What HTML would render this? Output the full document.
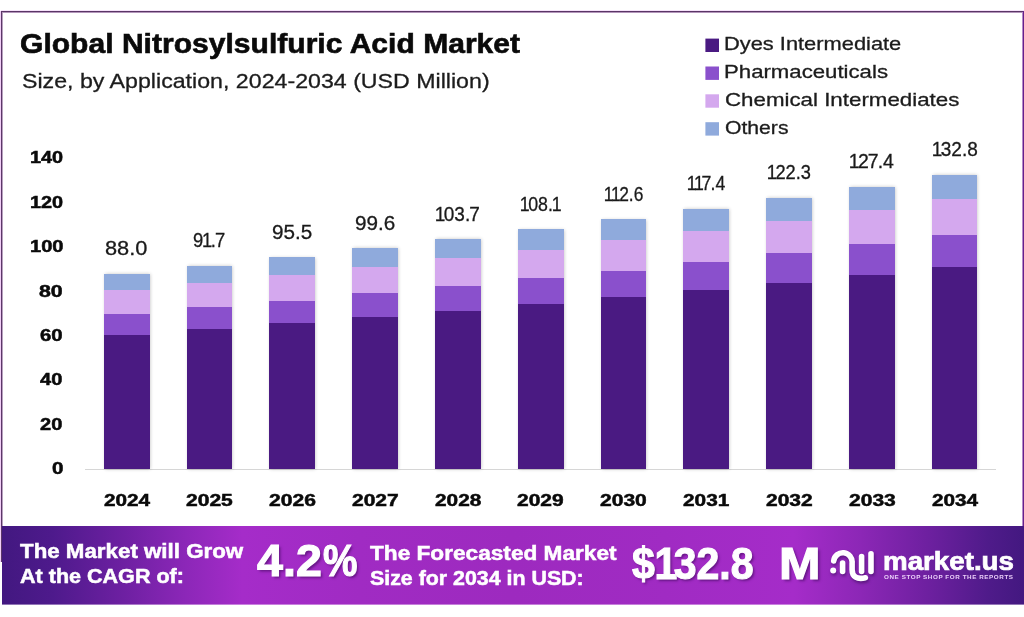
<!DOCTYPE html>
<html><head><meta charset="utf-8"><title>Global Nitrosylsulfuric Acid Market</title>
<style>
html,body{margin:0;padding:0;background:#fff;}
body{width:1024px;height:617px;position:relative;overflow:hidden;font-family:"Liberation Sans",sans-serif;color:#111;}
.t{position:absolute;white-space:nowrap;line-height:1;transform-origin:0 50%;}
.fr{position:absolute;}
.n1{margin:0 -0.085em 0 -0.065em;}
.n7{margin:0 -0.05em 0 -0.05em;}
.sq{position:absolute;left:705.4px;width:13.6px;height:13.4px;}
.seg{position:absolute;left:0;width:100%;}
.bar{position:absolute;box-shadow:0.5px 0 3.5px rgba(0,0,0,0.24);}
.axis{position:absolute;left:85px;top:468.5px;width:910.5px;height:1px;background:#d6d6d6;}
.banner{position:absolute;left:2px;top:526px;width:1022px;height:78px;background:linear-gradient(90deg,#421880 0%,#4e1a8c 5%,#6e20a2 12%,#8c27b8 18%,#a52cc9 23.5%,#a02bc3 35%,#9d2abf 50%,#a02bc3 65%,#a52cc9 77.5%,#8c27b6 84%,#6e20a0 90.5%,#4f1b8a 96.5%,#431880 100%);}
.banner2{position:absolute;left:2px;top:604px;width:1022px;height:1px;opacity:.6;background:linear-gradient(90deg,#421880 0%,#4e1a8c 5%,#6e20a2 12%,#8c27b8 18%,#a52cc9 23.5%,#a02bc3 35%,#9d2abf 50%,#a02bc3 65%,#a52cc9 77.5%,#8c27b6 84%,#6e20a0 90.5%,#4f1b8a 96.5%,#431880 100%);}
</style></head><body>
<div class="fr" style="left:0;top:11px;width:1px;height:551px;background:#f1cdf6"></div>
<div class="fr" style="left:1px;top:11px;width:1px;height:551px;background:#5b3868"></div>
<div class="fr" style="left:2px;top:12px;width:1px;height:514px;background:#b9a0c0"></div>
<div class="fr" style="left:1px;top:10px;width:1023px;height:1px;background:#f6e3fa"></div>
<div class="fr" style="left:1px;top:11px;width:1023px;height:1px;background:#5a3566"></div>
<div class="fr" style="left:2px;top:12px;width:1021px;height:1px;background:#b395bb"></div>
<div class="fr" style="left:1022px;top:12px;width:1px;height:514px;background:#b48ac8"></div>
<div class="fr" style="left:1023px;top:11px;width:1px;height:515px;background:#65208c"></div>
<svg style="position:absolute;left:700px;top:30px" width="30" height="112" viewBox="700 30 30 112"><rect x="705.4" y="38.6" width="13.6" height="13.4" fill="#4a1a82"/><rect x="705.4" y="66.5" width="13.6" height="13.4" fill="#8a50cc"/><rect x="705.4" y="94.3" width="13.6" height="13.4" fill="#d4a8ee"/><rect x="705.4" y="122.2" width="13.6" height="13.4" fill="#8faadc"/></svg>
<div class="axis"></div>
<div class="bar" style="left:103.90px;top:274.14px;width:45.8px;height:194.61px"><div class="seg" style="bottom:0.00px;height:134.19px;background:#4a1a82"></div><div class="seg" style="bottom:133.89px;height:21.32px;background:#8a50cc"></div><div class="seg" style="bottom:154.91px;height:23.85px;background:#d4a8ee"></div><div class="seg" style="bottom:178.46px;height:16.45px;background:#8faadc"></div></div>
<div class="bar" style="left:186.68px;top:265.96px;width:45.8px;height:202.79px"><div class="seg" style="bottom:0.00px;height:139.82px;background:#4a1a82"></div><div class="seg" style="bottom:139.52px;height:22.20px;background:#8a50cc"></div><div class="seg" style="bottom:161.42px;height:24.84px;background:#d4a8ee"></div><div class="seg" style="bottom:185.96px;height:17.13px;background:#8faadc"></div></div>
<div class="bar" style="left:269.46px;top:257.55px;width:45.8px;height:211.20px"><div class="seg" style="bottom:0.00px;height:145.60px;background:#4a1a82"></div><div class="seg" style="bottom:145.30px;height:23.11px;background:#8a50cc"></div><div class="seg" style="bottom:168.11px;height:25.85px;background:#d4a8ee"></div><div class="seg" style="bottom:193.67px;height:17.83px;background:#8faadc"></div></div>
<div class="bar" style="left:352.24px;top:248.48px;width:45.8px;height:220.27px"><div class="seg" style="bottom:0.00px;height:151.84px;background:#4a1a82"></div><div class="seg" style="bottom:151.54px;height:24.09px;background:#8a50cc"></div><div class="seg" style="bottom:175.33px;height:26.95px;background:#d4a8ee"></div><div class="seg" style="bottom:201.98px;height:18.58px;background:#8faadc"></div></div>
<div class="bar" style="left:435.02px;top:239.42px;width:45.8px;height:229.33px"><div class="seg" style="bottom:0.00px;height:158.08px;background:#4a1a82"></div><div class="seg" style="bottom:157.78px;height:25.07px;background:#8a50cc"></div><div class="seg" style="bottom:182.55px;height:28.05px;background:#d4a8ee"></div><div class="seg" style="bottom:210.30px;height:19.33px;background:#8faadc"></div></div>
<div class="bar" style="left:517.80px;top:229.69px;width:45.8px;height:239.06px"><div class="seg" style="bottom:0.00px;height:164.78px;background:#4a1a82"></div><div class="seg" style="bottom:164.48px;height:26.12px;background:#8a50cc"></div><div class="seg" style="bottom:190.29px;height:29.23px;background:#d4a8ee"></div><div class="seg" style="bottom:219.22px;height:20.14px;background:#8faadc"></div></div>
<div class="bar" style="left:600.58px;top:219.74px;width:45.8px;height:249.01px"><div class="seg" style="bottom:0.00px;height:171.62px;background:#4a1a82"></div><div class="seg" style="bottom:171.32px;height:27.19px;background:#8a50cc"></div><div class="seg" style="bottom:198.22px;height:30.43px;background:#d4a8ee"></div><div class="seg" style="bottom:228.35px;height:20.97px;background:#8faadc"></div></div>
<div class="bar" style="left:683.36px;top:209.12px;width:45.8px;height:259.63px"><div class="seg" style="bottom:0.00px;height:178.93px;background:#4a1a82"></div><div class="seg" style="bottom:178.63px;height:28.34px;background:#8a50cc"></div><div class="seg" style="bottom:206.67px;height:31.72px;background:#d4a8ee"></div><div class="seg" style="bottom:238.08px;height:21.85px;background:#8faadc"></div></div>
<div class="bar" style="left:766.14px;top:198.28px;width:45.8px;height:270.47px"><div class="seg" style="bottom:0.00px;height:186.38px;background:#4a1a82"></div><div class="seg" style="bottom:186.08px;height:29.51px;background:#8a50cc"></div><div class="seg" style="bottom:215.29px;height:33.03px;background:#d4a8ee"></div><div class="seg" style="bottom:248.02px;height:22.75px;background:#8faadc"></div></div>
<div class="bar" style="left:848.92px;top:187.00px;width:45.8px;height:281.75px"><div class="seg" style="bottom:0.00px;height:194.14px;background:#4a1a82"></div><div class="seg" style="bottom:193.84px;height:30.73px;background:#8a50cc"></div><div class="seg" style="bottom:224.27px;height:34.39px;background:#d4a8ee"></div><div class="seg" style="bottom:258.36px;height:23.68px;background:#8faadc"></div></div>
<div class="bar" style="left:931.70px;top:175.06px;width:45.8px;height:293.69px"><div class="seg" style="bottom:0.00px;height:202.36px;background:#4a1a82"></div><div class="seg" style="bottom:202.06px;height:32.02px;background:#8a50cc"></div><div class="seg" style="bottom:233.78px;height:35.84px;background:#d4a8ee"></div><div class="seg" style="bottom:269.31px;height:24.68px;background:#8faadc"></div></div>
<div class="banner"></div><div class="banner2"></div>
<svg style="position:absolute;left:824px;top:544px;filter:drop-shadow(1px 2px 1.5px rgba(50,10,80,0.55))" width="60" height="46" viewBox="824 544 60 46">
<g fill="none" stroke="#fff" stroke-width="5.6" stroke-linecap="round" stroke-linejoin="round">
<path d="M833.7 561 A9.2 9.2 0 0 1 852.1 563 V569.5 C852.1 577 857 579.6 865.4 577.8"/>
<path d="M842.6 563 V571.5"/>
<path d="M861.6 556.6 V571.5"/>
<path d="M871 553.8 V571.5"/>
</g>
<circle cx="833.2" cy="570.6" r="3" fill="#fff"/>
</svg>
<div class="t" style="left:20.12px;top:30.18px;font-size:27.2px;font-weight:bold;color:#0a0a0a;transform:scaleX(1.1058);-webkit-text-stroke:0.6px #0a0a0a;">Global Nitrosylsulfuric Acid Market</div>
<div class="t" style="left:21.60px;top:70.51px;font-size:20.9px;font-weight:normal;color:#1c1c1c;transform:scaleX(1.1094);-webkit-text-stroke:0.3px #1c1c1c;">Size, by Application, 2024-2034 (USD Million)</div>
<div class="t" style="left:724.45px;top:34.84px;font-size:18.5px;font-weight:normal;color:#1c1c1c;transform:scaleX(1.1807);-webkit-text-stroke:0.3px #1c1c1c;">Dyes Intermediate</div>
<div class="t" style="left:724.36px;top:62.74px;font-size:18.5px;font-weight:normal;color:#1c1c1c;transform:scaleX(1.1990);-webkit-text-stroke:0.3px #1c1c1c;">Pharmaceuticals</div>
<div class="t" style="left:725.04px;top:90.54px;font-size:18.5px;font-weight:normal;color:#1c1c1c;transform:scaleX(1.2058);-webkit-text-stroke:0.3px #1c1c1c;">Chemical Intermediates</div>
<div class="t" style="left:725.47px;top:119.19px;font-size:18.5px;font-weight:normal;color:#1c1c1c;transform:scaleX(1.1432);-webkit-text-stroke:0.3px #1c1c1c;">Others</div>
<div class="t" style="left:51.57px;top:460.01px;font-size:17px;font-weight:bold;color:#0a0a0a;transform:scaleX(1.2132);-webkit-text-stroke:0.5px #0a0a0a;">0</div>
<div class="t" style="left:40.39px;top:415.61px;font-size:17px;font-weight:bold;color:#0a0a0a;transform:scaleX(1.1801);-webkit-text-stroke:0.5px #0a0a0a;">20</div>
<div class="t" style="left:40.37px;top:371.21px;font-size:17px;font-weight:bold;color:#0a0a0a;transform:scaleX(1.1797);-webkit-text-stroke:0.5px #0a0a0a;">40</div>
<div class="t" style="left:40.24px;top:326.81px;font-size:17px;font-weight:bold;color:#0a0a0a;transform:scaleX(1.1978);-webkit-text-stroke:0.5px #0a0a0a;">60</div>
<div class="t" style="left:39.07px;top:282.96px;font-size:17px;font-weight:bold;color:#0a0a0a;transform:scaleX(1.2549);-webkit-text-stroke:0.5px #0a0a0a;">80</div>
<div class="t" style="left:29.83px;top:238.01px;font-size:17px;font-weight:bold;color:#0a0a0a;transform:scaleX(1.1817);-webkit-text-stroke:0.5px #0a0a0a;">100</div>
<div class="t" style="left:29.86px;top:193.61px;font-size:17px;font-weight:bold;color:#0a0a0a;transform:scaleX(1.1688);-webkit-text-stroke:0.5px #0a0a0a;">120</div>
<div class="t" style="left:29.86px;top:149.21px;font-size:17px;font-weight:bold;color:#0a0a0a;transform:scaleX(1.1688);-webkit-text-stroke:0.5px #0a0a0a;">140</div>
<div class="t" style="left:104.51px;top:239.03px;font-size:19.5px;font-weight:normal;color:#1a1a1a;transform:scaleX(1.1169);-webkit-text-stroke:0.3px #1a1a1a;">88.0</div>
<div class="t" style="left:103.72px;top:491.96px;font-size:17px;font-weight:bold;color:#0a0a0a;transform:scaleX(1.2197);-webkit-text-stroke:0.5px #0a0a0a;">2024</div>
<div class="t" style="left:192.71px;top:230.85px;font-size:19.5px;font-weight:normal;color:#1a1a1a;transform:scaleX(0.9439);-webkit-text-stroke:0.3px #1a1a1a;">9<span class="n1">1</span>.<span class="n7">7</span></div>
<div class="t" style="left:186.45px;top:491.96px;font-size:17px;font-weight:bold;color:#0a0a0a;transform:scaleX(1.2382);-webkit-text-stroke:0.5px #0a0a0a;">2025</div>
<div class="t" style="left:272.43px;top:223.14px;font-size:19.5px;font-weight:normal;color:#1a1a1a;transform:scaleX(1.0584);-webkit-text-stroke:0.3px #1a1a1a;">95.5</div>
<div class="t" style="left:268.99px;top:491.96px;font-size:17px;font-weight:bold;color:#0a0a0a;transform:scaleX(1.2409);-webkit-text-stroke:0.5px #0a0a0a;">2026</div>
<div class="t" style="left:354.50px;top:214.01px;font-size:19.5px;font-weight:normal;color:#1a1a1a;transform:scaleX(1.0593);-webkit-text-stroke:0.3px #1a1a1a;">99.6</div>
<div class="t" style="left:351.92px;top:491.96px;font-size:17px;font-weight:bold;color:#0a0a0a;transform:scaleX(1.2358);-webkit-text-stroke:0.5px #0a0a0a;">2027</div>
<div class="t" style="left:435.63px;top:204.88px;font-size:19.5px;font-weight:normal;color:#1a1a1a;transform:scaleX(0.9749);-webkit-text-stroke:0.3px #1a1a1a;"><span class="n1">1</span>03.<span class="n7">7</span></div>
<div class="t" style="left:434.54px;top:491.96px;font-size:17px;font-weight:bold;color:#0a0a0a;transform:scaleX(1.2243);-webkit-text-stroke:0.5px #0a0a0a;">2028</div>
<div class="t" style="left:520.68px;top:194.58px;font-size:19.5px;font-weight:normal;color:#1a1a1a;transform:scaleX(0.9097);-webkit-text-stroke:0.3px #1a1a1a;"><span class="n1">1</span>08.<span class="n1">1</span></div>
<div class="t" style="left:517.30px;top:491.96px;font-size:17px;font-weight:bold;color:#0a0a0a;transform:scaleX(1.2322);-webkit-text-stroke:0.5px #0a0a0a;">2029</div>
<div class="t" style="left:604.63px;top:184.63px;font-size:19.5px;font-weight:normal;color:#1a1a1a;transform:scaleX(0.8909);-webkit-text-stroke:0.3px #1a1a1a;"><span class="n1">1</span><span class="n1">1</span>2.6</div>
<div class="t" style="left:600.26px;top:491.96px;font-size:17px;font-weight:bold;color:#0a0a0a;transform:scaleX(1.2375);-webkit-text-stroke:0.5px #0a0a0a;">2030</div>
<div class="t" style="left:688.46px;top:174.01px;font-size:19.5px;font-weight:normal;color:#1a1a1a;transform:scaleX(0.9061);-webkit-text-stroke:0.3px #1a1a1a;"><span class="n1">1</span><span class="n1">1</span><span class="n7">7</span>.4</div>
<div class="t" style="left:683.19px;top:491.96px;font-size:17px;font-weight:bold;color:#0a0a0a;transform:scaleX(1.2249);-webkit-text-stroke:0.5px #0a0a0a;">2031</div>
<div class="t" style="left:767.68px;top:163.18px;font-size:19.5px;font-weight:normal;color:#1a1a1a;transform:scaleX(0.9359);-webkit-text-stroke:0.3px #1a1a1a;"><span class="n1">1</span>22.3</div>
<div class="t" style="left:765.70px;top:491.96px;font-size:17px;font-weight:bold;color:#0a0a0a;transform:scaleX(1.2332);-webkit-text-stroke:0.5px #0a0a0a;">2032</div>
<div class="t" style="left:850.08px;top:151.9px;font-size:19.5px;font-weight:normal;color:#1a1a1a;transform:scaleX(0.9975);-webkit-text-stroke:0.3px #1a1a1a;"><span class="n1">1</span>2<span class="n7">7</span>.4</div>
<div class="t" style="left:848.79px;top:491.96px;font-size:17px;font-weight:bold;color:#0a0a0a;transform:scaleX(1.2372);-webkit-text-stroke:0.5px #0a0a0a;">2033</div>
<div class="t" style="left:932.86px;top:139.96px;font-size:19.5px;font-weight:normal;color:#1a1a1a;transform:scaleX(0.9757);-webkit-text-stroke:0.3px #1a1a1a;"><span class="n1">1</span>32.8</div>
<div class="t" style="left:931.60px;top:491.96px;font-size:17px;font-weight:bold;color:#0a0a0a;transform:scaleX(1.2200);-webkit-text-stroke:0.5px #0a0a0a;">2034</div>
<div class="t" style="left:20.02px;top:542.01px;font-size:19.6px;font-weight:bold;color:#fff;transform:scaleX(1.1389);-webkit-text-stroke:0.5px #fff;">The Market will Grow</div>
<div class="t" style="left:19.93px;top:566.71px;font-size:19.6px;font-weight:bold;color:#fff;transform:scaleX(1.0994);-webkit-text-stroke:0.5px #fff;">At the CAGR of:</div>
<div class="t" style="left:370.02px;top:543.37px;font-size:20px;font-weight:bold;color:#fff;transform:scaleX(1.1319);-webkit-text-stroke:0.5px #fff;">The Forecasted Market</div>
<div class="t" style="left:369.89px;top:568.47px;font-size:20px;font-weight:bold;color:#fff;transform:scaleX(1.0680);-webkit-text-stroke:0.5px #fff;">Size for 2034 in USD:</div>
<div><div class="t" style="left:256.78px;top:538.62px;font-size:44.4px;font-weight:bold;color:#fff;transform:scaleX(1.0506);text-shadow:2px 2px 2.5px rgba(70,10,100,0.65);-webkit-text-stroke:1.1px #fff;">4.2</div><div class="t" style="left:322.68px;top:538.62px;font-size:44.4px;font-weight:bold;color:#fff;transform:scaleX(0.8741);text-shadow:2px 2px 2.5px rgba(70,10,100,0.65);-webkit-text-stroke:1.1px #fff;">%</div></div>
<div><div class="t" style="left:631.65px;top:542.02px;font-size:44.4px;font-weight:bold;color:#fff;transform:scaleX(0.9259);text-shadow:2px 2px 2.5px rgba(70,10,100,0.65);-webkit-text-stroke:1.1px #fff;">$<span style="margin:0 -0.09em 0 -0.01em">1</span>32.8</div> <div class="t" style="left:778.92px;top:542.02px;font-size:44.4px;font-weight:bold;color:#fff;transform:scaleX(1.1230);text-shadow:2px 2px 2.5px rgba(70,10,100,0.65);-webkit-text-stroke:1.1px #fff;">M</div></div>
<div class="t" style="left:882.87px;top:548.5px;font-size:25.4px;font-weight:bold;color:#fff;transform:scaleX(1.0916);-webkit-text-stroke:0.7px #fff;">market.us</div>
<div class="t" style="left:884.41px;top:574.63px;font-size:5.5px;font-weight:bold;color:#ecd0fa;transform:scaleX(1.1411);letter-spacing:0.5px;">ONE STOP SHOP FOR THE REPORTS</div>
</body></html>
